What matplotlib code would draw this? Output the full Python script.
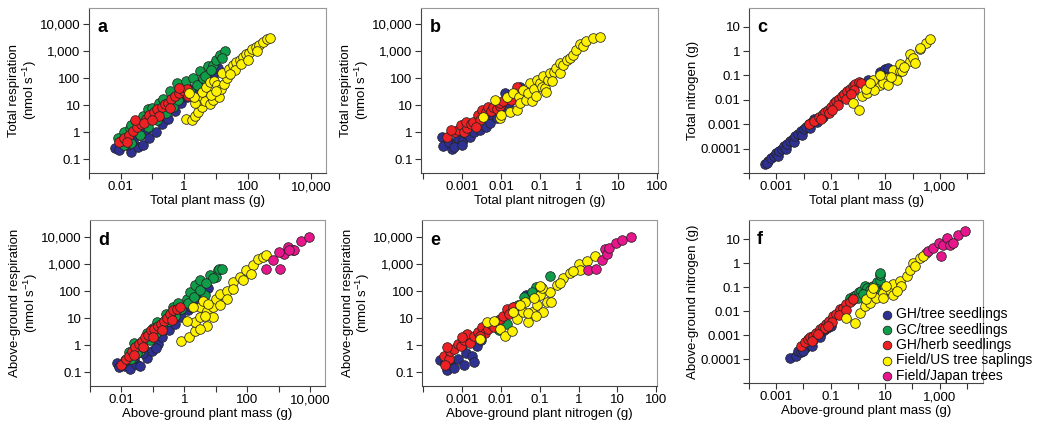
import numpy as np
import matplotlib
matplotlib.use('Agg')
import matplotlib.pyplot as plt

plt.rcParams['font.family'] = ['Liberation Sans', 'DejaVu Sans']
plt.rcParams['mathtext.fontset'] = 'custom'
plt.rcParams['mathtext.rm'] = 'Liberation Sans'
plt.rcParams['mathtext.it'] = 'Liberation Sans:italic'

GROUPS = ['GH/tree seedlings', 'GC/tree seedlings', 'GH/herb seedlings',
          'Field/US tree saplings', 'Field/Japan trees']
COLORS = ['#2e3192', '#0f9d4a', '#ed2024', '#fff200', '#e8168c']

# a: total plant mass (g) vs total respiration (nmol/s)
A_BLUE = [(-2.19, -0.59), (-2.05, -0.65), (-1.68, -0.74), (-1.45, -0.55), (-1.29, -0.47),
          (-1.8, -0.45), (-1.6, -0.3), (-1.4, -0.1), (-1.2, 0.1), (-1.1, -0.2), (-0.9, 0.0),
          (-0.8, 0.5), (-0.7, 0.3), (-0.5, 0.5), (-0.3, 0.8), (-0.1, 1.1), (0.1, 1.3),
          (0.2, 1.6), (0.3, 1.5), (0.5, 1.8), (0.6, 2.0), (0.76, 1.95), (0.9, 2.1), (1.07, 2.39)]
A_GREEN = [(-2.1, -0.2), (-1.9, 0.0), (-1.72, 0.15), (-1.66, 0.28), (-1.66, -0.4), (-1.5, 0.4),
           (-1.4, -0.1), (-1.3, 0.6), (-1.14, 0.87), (-1.14, 0.2), (-1.0, 0.9), (-0.87, 0.46),
           (-0.8, 1.1), (-0.66, 1.23), (-0.56, 0.71), (-0.45, 1.52), (-0.35, 0.96), (-0.24, 1.83),
           (-0.19, 1.2), (0.07, 1.89), (0.18, 1.52), (0.28, 2.0), (0.39, 1.77), (0.49, 2.26),
           (0.6, 2.0), (0.65, 2.08), (0.76, 2.45), (0.92, 2.5), (1.02, 2.7), (1.13, 2.88),
           (1.28, 3.0), (1.2, 2.75), (0.85, 2.3), (-1.9, -0.45), (-2.0, -0.3)]
A_RED = [(-2.05, -0.35), (-1.9, -0.2), (-1.75, -0.1), (-1.6, 0.05), (-1.5, 0.2), (-1.35, 0.3),
         (-1.2, 0.5), (-1.1, 0.65), (-0.95, 0.75), (-0.85, 0.85), (-0.7, 0.95), (-0.6, 1.05),
         (-0.5, 1.1), (-0.4, 1.25), (-0.3, 1.35), (-0.15, 1.45), (0.0, 1.55), (0.1, 1.6),
         (-0.15, 1.65), (-1.55, 0.45), (-1.25, 0.35), (-0.8, 0.6), (-0.45, 0.9), (0.12, 1.35),
         (-1.8, -0.35), (-1.0, 0.45)]
A_YELLOW = [(0.05, 0.5), (0.25, 0.45), (0.35, 0.6), (0.45, 0.75), (0.55, 0.95), (0.5, 1.2),
            (0.65, 1.15), (0.8, 1.05), (0.9, 1.2), (1.1, 1.3), (0.55, 1.5), (0.7, 1.7),
            (0.8, 1.85), (0.95, 1.9), (1.05, 1.75), (1.15, 1.6), (1.25, 1.8), (1.35, 2.0),
            (1.2, 2.2), (1.4, 2.35), (1.55, 2.5), (1.65, 2.6), (1.75, 2.7), (1.85, 2.8),
            (1.95, 2.9), (2.05, 2.95), (2.15, 3.1), (2.25, 3.15), (2.35, 3.25), (2.5, 3.35),
            (2.6, 3.45), (2.7, 3.48), (1.6, 2.3), (1.8, 2.55), (2.0, 2.7), (2.3, 3.0),
            (0.35, 1.1), (0.3, 1.3), (0.15, 1.45), (0.85, 1.4), (1.0, 1.55), (1.45, 2.15)]

# b: total plant nitrogen (g) vs total respiration
B_BLUE = [(-3.53, -0.16), (-3.49, -0.5), (-3.27, -0.63), (-3.35, -0.35), (-3.15, -0.4),
          (-3.1, -0.2), (-2.97, -0.28), (-2.9, -0.05), (-2.8, -0.16), (-2.7, 0.0), (-2.55, 0.1),
          (-2.4, 0.2), (-2.29, 0.34), (-2.2, 0.65), (-2.1, 0.55), (-2.0, 0.9), (-1.9, 1.46),
          (-1.8, 1.1), (-1.7, 1.33), (-1.52, 1.7), (-3.2, -0.55), (-3.0, -0.45)]
B_RED = [(-3.4, -0.18), (-3.19, 0.03), (-3.1, 0.1), (-3.02, 0.28), (-2.95, 0.0), (-2.89, 0.15),
         (-2.9, 0.4), (-2.78, 0.3), (-2.72, 0.4), (-2.6, 0.65), (-2.55, 0.46), (-2.5, 0.84),
         (-2.45, 0.6), (-2.4, 0.75), (-2.33, 0.96), (-2.25, 0.8), (-2.2, 0.94), (-2.1, 0.85),
         (-2.03, 0.98), (-2.03, 1.09), (-1.95, 1.15), (-1.82, 1.33), (-1.75, 1.2), (-1.6, 1.7),
         (-3.3, 0.1), (-2.65, 0.2)]
B_YELLOW = [(-2.46, 0.56), (-2.16, 1.2), (-2.02, 0.52), (-2.01, 0.65), (-1.86, 1.33), (-1.78, 0.77),
            (-1.7, 1.45), (-1.6, 0.84), (-1.55, 1.3), (-1.52, 1.08), (-1.44, 1.58), (-1.35, 1.2),
            (-1.3, 1.45), (-1.26, 1.83), (-1.22, 1.15), (-1.15, 1.6), (-1.09, 1.95), (-1.0, 1.83),
            (-0.95, 1.7), (-0.92, 2.08), (-0.87, 1.64), (-0.84, 1.5), (-0.8, 1.95), (-0.75, 2.2),
            (-0.65, 2.25), (-0.58, 2.39), (-0.5, 2.2), (-0.5, 2.57), (-0.4, 2.5), (-0.32, 2.7),
            (-0.24, 2.76), (-0.15, 2.88), (-0.07, 3.07), (0.02, 3.26), (0.1, 3.2), (0.19, 3.38),
            (0.36, 3.5), (0.53, 3.54), (-1.1, 1.35), (-0.7, 1.9)]

# c: total plant mass (g) vs total nitrogen (g)
C_BLUE = [(-3.43, -4.65), (-3.3, -4.5), (-3.35, -4.6), (-3.2, -4.4), (-3.1, -4.3), (-3.0, -4.2),
          (-2.95, -4.3), (-2.9, -4.1), (-2.8, -4.0), (-2.7, -3.9), (-2.65, -4.0), (-2.6, -3.8),
          (-2.5, -3.7), (-2.4, -3.6), (-2.35, -3.75), (-2.3, -3.5), (-2.2, -3.4), (-2.1, -3.3),
          (-2.05, -3.45), (-2.0, -3.2), (-1.9, -3.1), (-1.8, -3.0), (-1.75, -3.15), (-1.7, -2.9),
          (-1.6, -2.8), (-1.5, -2.9), (-1.3, -2.7), (0.35, -1.2), (0.8, -0.85), (0.9, -1.0),
          (0.95, -0.8), (1.0, -0.75), (1.1, -0.7)]
C_RED = [(-1.8, -3.0), (-1.6, -2.85), (-1.45, -2.7), (-1.3, -2.6), (-1.2, -2.5), (-1.1, -2.4),
         (-1.0, -2.3), (-0.9, -2.15), (-0.8, -2.05), (-0.7, -1.95), (-0.6, -1.85), (-0.5, -1.75),
         (-0.4, -1.65), (-0.3, -1.55), (-0.2, -1.45), (-0.1, -1.35), (0.05, -1.25), (0.12, -1.3),
         (-1.35, -2.8), (-1.05, -2.55), (-0.75, -2.2), (-0.45, -1.95), (-0.15, -1.6),
         (-0.25, -1.75), (-0.95, -2.4)]
C_YELLOW = [(-0.17, -2.13), (0.04, -2.4), (0.13, -1.86), (0.32, -1.72), (0.56, -1.45), (0.8, -1.38),
            (0.56, -1.17), (1.05, -1.1), (1.29, -0.96), (1.29, -0.76), (1.54, -0.83), (1.54, -0.55),
            (1.9, -0.42), (1.9, -0.14), (2.27, 0.07), (2.51, 0.34), (2.63, 0.48), (0.93, -1.31),
            (1.11, -1.38), (1.41, -1.17), (1.6, -0.83), (2.02, -0.28), (2.09, -0.48), (2.27, 0.13),
            (0.8, -1.0), (0.6, -1.6), (0.3, -1.55), (0.45, -1.3), (1.7, -0.65), (1.2, -1.05)]

# d: above-ground plant mass (g) vs above-ground respiration
D_BLUE = [(-2.15, -0.65), (-2.08, -0.8), (-1.9, -0.75), (-1.72, -0.88), (-1.55, -0.7), (-1.4, -0.75),
          (-1.2, -0.45), (-1.03, -0.2), (-0.85, 0.05), (-0.7, 0.3), (-0.5, 0.55), (-0.3, 0.8),
          (-0.1, 1.05), (0.1, 1.3), (0.3, 1.6), (0.5, 1.85), (0.65, 2.0), (0.75, 2.1),
          (-1.6, -0.45), (-1.3, -0.3), (-0.9, -0.1), (0.2, 1.4)]
D_GREEN = [(-1.77, -0.26), (-1.4, -0.2), (-0.87, 0.85), (-0.35, 1.4), (0.07, 1.72), (0.18, 1.96),
           (0.34, 2.21), (0.49, 2.4), (0.81, 2.58), (1.07, 2.77), (1.02, 2.52), (0.65, 1.84),
           (-1.9, -0.55), (-1.7, -0.5), (-1.5, -0.3), (-1.3, -0.05), (-1.1, 0.2), (-0.9, 0.45),
           (-0.7, 0.7), (-0.5, 0.9), (-0.3, 1.1), (-0.1, 1.35), (0.1, 1.55), (0.3, 1.8),
           (0.5, 2.05), (-1.6, 0.1), (-1.2, 0.45), (-1.0, 0.65), (-0.6, 1.15), (-0.2, 1.55),
           (0.9, 2.5), (1.1, 2.8), (1.2, 2.8), (0.7, 2.3)]
D_RED = [(-2.03, -0.72), (-1.85, -0.5), (-1.77, -0.38), (-1.65, -0.2), (-1.56, -0.07), (-1.45, 0.05),
         (-1.35, 0.15), (-1.25, 0.3), (-1.15, 0.4), (-1.05, 0.55), (-0.95, 0.6), (-0.85, 0.7),
         (-0.75, 0.8), (-0.65, 0.9), (-0.55, 1.0), (-0.45, 1.15), (-0.35, 1.3), (-0.25, 1.35),
         (-0.14, 1.4), (-1.6, -0.35), (-1.3, -0.05), (-1.0, 0.3), (-0.7, 0.55), (-0.4, 0.95)]
D_YELLOW = [(-0.1, 0.17), (0.16, 0.3), (0.34, 0.54), (0.34, 0.85), (0.49, 1.04), (0.71, 0.73),
            (0.49, 1.41), (0.71, 1.28), (0.92, 1.41), (0.92, 1.04), (1.02, 1.72), (1.13, 1.9),
            (1.34, 2.02), (1.55, 2.33), (1.76, 2.52), (1.97, 2.77), (2.18, 2.95), (2.34, 3.2),
            (2.49, 3.26), (2.6, 3.32), (0.28, 1.41), (0.6, 1.65), (0.76, 1.53), (0.07, 0.91),
            (1.34, 1.72), (1.55, 2.09), (1.86, 2.4), (2.13, 2.64), (1.13, 1.47), (0.5, 0.6),
            (0.65, 1.1)]
D_MAGENTA = [(2.6, 2.83), (2.81, 3.16), (3.05, 2.83), (3.18, 3.38), (3.02, 3.44), (3.28, 3.63),
             (3.44, 3.51), (3.5, 3.53), (3.71, 3.85), (3.95, 4.0), (3.34, 3.51)]

# e: above-ground plant nitrogen (g) vs above-ground respiration
E_BLUE = [(-3.56, -0.53), (-3.38, -0.9), (-3.3, -0.7), (-3.21, -0.84), (-3.1, -0.5), (-2.96, -0.71),
          (-2.9, -0.3), (-2.83, 0.23), (-2.74, -0.4), (-2.62, -0.02), (-2.5, 0.2), (-2.36, 0.6),
          (-2.7, -0.6), (-3.0, 0.0), (-3.45, -0.65), (-2.2, 0.7), (-1.35, 1.85)]
E_GREEN = [(-0.74, 2.54), (-1.09, 2.16), (-1.4, 1.79), (-1.66, 1.41), (-2.04, 0.55), (-1.85, 0.8),
           (-1.55, 1.5), (-1.2, 1.95)]
E_RED = [(-3.47, -0.4), (-3.34, -0.5), (-3.3, -0.2), (-3.21, -0.15), (-3.1, 0.05), (-3.04, -0.02),
         (-2.95, 0.2), (-2.87, 0.41), (-2.8, 0.1), (-2.7, 0.35), (-2.6, 0.5), (-2.49, 0.66),
         (-2.4, 0.45), (-2.32, 0.6), (-2.25, 0.8), (-2.19, 0.66), (-2.1, 0.9), (-2.02, 0.98),
         (-1.95, 1.1), (-1.85, 1.35), (-1.8, 1.16), (-1.68, 1.41), (-3.0, 0.3), (-2.55, 0.35),
         (-3.4, -0.05), (-3.45, -0.73)]
E_YELLOW = [(-2.53, 0.23), (-2.36, 0.85), (-2.19, 0.91), (-2.02, 0.6), (-1.89, 0.35), (-1.72, 0.54),
            (-1.59, 0.98), (-1.42, 1.23), (-1.29, 0.85), (-1.21, 1.23), (-1.08, 1.48), (-0.99, 1.85),
            (-0.91, 1.23), (-0.82, 1.6), (-0.74, 1.98), (-0.56, 2.23), (-0.39, 2.48), (-0.22, 2.66),
            (0.0, 2.98), (0.03, 2.79), (0.21, 3.1), (0.42, 3.29), (-1.68, 1.23), (-1.38, 1.6),
            (-1.16, 1.73), (-1.5, 1.48), (-0.95, 2.1), (-0.48, 2.29), (-0.14, 2.73), (-1.3, 1.2),
            (-1.1, 1.1), (-0.7, 1.6), (-1.0, 2.2)]
E_MAGENTA = [(0.25, 2.79), (0.46, 2.83), (0.59, 3.16), (0.68, 3.54), (0.72, 3.35), (0.79, 3.58),
             (0.97, 3.79), (1.13, 3.88), (1.34, 4.01)]

# f: above-ground plant mass (g) vs above-ground nitrogen (g)
F_BLUE = [(-2.51, -3.97), (-2.26, -3.86), (-2.2, -3.65), (-2.1, -3.7), (-1.96, -3.52), (-1.85, -3.4),
          (-1.75, -3.3), (-1.65, -3.2), (-1.55, -3.1), (-1.45, -3.0), (-1.35, -2.9), (-1.25, -2.8),
          (-1.15, -2.7), (-2.0, -3.65), (-1.7, -3.45), (-1.4, -3.1), (-1.0, -2.6), (-0.6, -2.1),
          (0.66, -1.06), (0.5, -1.0)]
F_GREEN = [(-0.3, -1.44), (-0.15, -1.35), (-0.06, -1.31), (0.05, -1.2), (0.13, -1.17), (0.25, -0.96),
           (0.35, -1.05), (0.44, -1.1), (0.55, -0.95), (0.62, -1.1), (0.72, -0.8), (0.8, -0.69),
           (0.8, -0.48), (0.82, -0.42), (0.0, -1.45), (-0.2, -1.55), (0.2, -1.3)]
F_RED = [(-2.08, -3.45), (-1.95, -3.3), (-1.83, -3.17), (-1.75, -3.1), (-1.65, -3.03), (-1.55, -2.9),
         (-1.4, -2.76), (-1.3, -2.65), (-1.16, -2.55), (-1.05, -2.4), (-0.91, -2.2), (-0.8, -2.1),
         (-0.67, -1.93), (-0.55, -1.85), (-0.42, -1.72), (-0.3, -1.6), (-0.18, -1.51), (-1.7, -3.25),
         (-1.45, -2.95), (-1.2, -2.7), (-0.95, -2.45), (-0.7, -2.15), (-0.45, -1.95), (-1.1, -2.6)]
F_YELLOW = [(-0.09, -2.48), (-0.42, -2.27), (0.07, -2.07), (0.25, -1.79), (0.44, -1.65), (0.31, -1.51),
            (0.68, -1.44), (0.93, -1.24), (1.17, -1.1), (1.29, -0.89), (1.54, -0.75), (1.79, -0.55),
            (1.91, -0.27), (2.03, 0.0), (2.28, 0.21), (2.52, 0.42), (0.93, -1.44), (1.29, -1.31),
            (1.05, -0.96), (1.6, -0.96), (2.09, -0.13), (2.4, 0.28), (0.5, -1.24), (1.42, -1.17),
            (0.56, -1.03)]
F_MAGENTA = [(2.58, 0.49), (2.77, 0.63), (2.99, 0.83), (3.05, 0.28), (3.13, 0.76), (3.26, 1.04),
             (3.38, 0.76), (3.5, 0.83), (3.69, 1.18), (3.93, 1.36)]

RESP_TICKS = ['0.1', '1', '10', '100', '1,000', '10,000']


def draw(ax, series, xexp, xlabels, xlim, yexp, ylabels, ylim, xlabel, ylabel, letter):
    for pts, col, name in zip(series, COLORS, GROUPS):
        if not pts:
            continue
        lx, ly = np.array(pts).T
        ax.scatter(10.0 ** lx, 10.0 ** ly, s=48, c=col, edgecolors='#222222',
                   linewidths=0.55, zorder=3, label=name)
    ax.set_xscale('log')
    ax.set_yscale('log')
    ax.set_xticks(10.0 ** np.array(xexp), xlabels)
    ax.set_yticks(10.0 ** np.array(yexp), ylabels)
    ax.minorticks_off()
    ax.set_xlim(10.0 ** xlim[0], 10.0 ** xlim[1])
    ax.set_ylim(10.0 ** ylim[0], 10.0 ** ylim[1])
    ax.tick_params(direction='out', length=4, width=0.8, color='#333333',
                   labelsize=9.5, pad=2)
    for side in ['top', 'right']:
        ax.spines[side].set_color('#999999')
    for side in ['left', 'bottom']:
        ax.spines[side].set_color('#444444')
    for s in ax.spines.values():
        s.set_linewidth(0.8)
    ax.set_xlabel(xlabel, fontsize=9.5, labelpad=1)
    ax.set_ylabel(ylabel, fontsize=9.5, labelpad=1, linespacing=1.0)
    ax.text(0.035, 0.85, letter, transform=ax.transAxes, fontsize=13,
            fontweight='bold', va='baseline')


fig = plt.figure(figsize=(10.37, 4.28), dpi=100)
ax_a = fig.add_axes([0.0858, 0.596, 0.2285, 0.386])
ax_b = fig.add_axes([0.406, 0.596, 0.2285, 0.386])
ax_c = fig.add_axes([0.7223, 0.596, 0.2266, 0.386])
ax_d = fig.add_axes([0.0868, 0.098, 0.2266, 0.388])
ax_e = fig.add_axes([0.407, 0.098, 0.2266, 0.388])
ax_f = fig.add_axes([0.7223, 0.105, 0.2257, 0.381])

resp_lab = 'respiration\n(nmol s$^{-1}$)'

draw(ax_a, [A_BLUE, A_GREEN, A_RED, A_YELLOW, None],
     range(-3, 5), ['', '0.01', '', '1', '', '100', '', '10,000'], (-3, 4.47),
     range(-1, 5), RESP_TICKS, (-1.5, 4.62),
     'Total plant mass (g)', 'Total ' + resp_lab, 'a')
draw(ax_b, [B_BLUE, None, B_RED, B_YELLOW, None],
     range(-4, 3), ['', '0.001', '0.01', '0.1', '1', '10', '100'], (-4.06, 2.03),
     range(-1, 5), RESP_TICKS, (-1.5, 4.62),
     'Total plant nitrogen (g)', 'Total ' + resp_lab, 'b')
draw(ax_c, [C_BLUE, None, C_RED, C_YELLOW, None],
     range(-4, 5), ['', '0.001', '', '0.1', '', '10', '', '1,000', ''], (-4, 4.62),
     range(-5, 2), ['', '0.0001', '0.001', '0.01', '0.1', '1', '10'], (-5, 1.78),
     'Total plant mass (g)', 'Total nitrogen (g)', 'c')
draw(ax_d, [D_BLUE, D_GREEN, D_RED, D_YELLOW, D_MAGENTA],
     range(-3, 5), ['', '0.01', '', '1', '', '100', '', '10,000'], (-3, 4.47),
     range(-1, 5), RESP_TICKS, (-1.5, 4.62),
     'Above-ground plant mass (g)', 'Above-ground ' + resp_lab, 'd')
draw(ax_e, [E_BLUE, E_GREEN, E_RED, E_YELLOW, E_MAGENTA],
     range(-4, 3), ['', '0.001', '0.01', '0.1', '1', '10', '100'], (-4.03, 2.02),
     range(-1, 5), RESP_TICKS, (-1.5, 4.62),
     'Above-ground plant nitrogen (g)', 'Above-ground ' + resp_lab, 'e')
draw(ax_f, [F_BLUE, F_GREEN, F_RED, F_YELLOW, F_MAGENTA],
     range(-4, 5), ['', '0.001', '', '0.1', '', '10', '', '1,000', ''], (-4, 4.6),
     range(-5, 2), ['', '0.0001', '0.001', '0.01', '0.1', '1', '10'], (-5, 1.8),
     'Above-ground plant mass (g)', 'Above-ground nitrogen (g)', 'f')

ax_f.legend(loc='upper left', bbox_to_anchor=(0.57, 0.465), frameon=False,
            fontsize=10, handlelength=0.7, handletextpad=0.25, labelspacing=0.1,
            borderpad=0, borderaxespad=0, markerscale=0.9)

fig.savefig('out.png', dpi=100)
